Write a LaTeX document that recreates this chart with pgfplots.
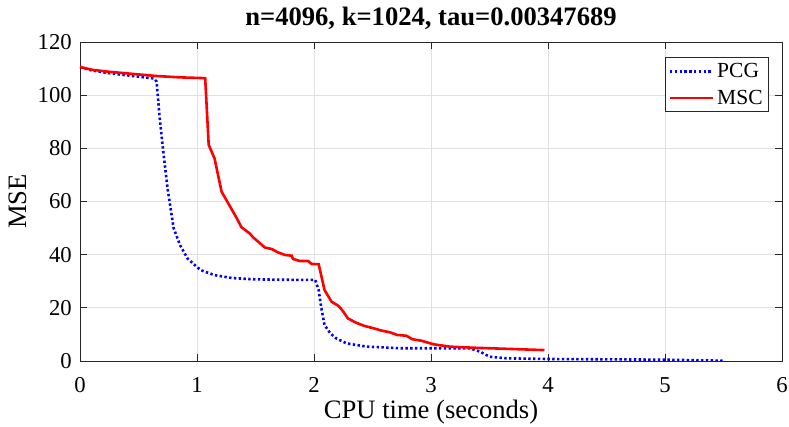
\documentclass[border=0pt]{standalone}
\usepackage{pgfplots}
\pgfplotsset{compat=1.18}
\usepackage{fontspec}
\setmainfont{Liberation Serif}
\usetikzlibrary{calc}
\definecolor{mblue}{RGB}{0,0,255}
\definecolor{mred}{RGB}{255,0,0}
\newcommand{\tickfont}{\fontsize{22.7}{26}\selectfont}
\newcommand{\labfont}{\fontsize{26.6}{30}\selectfont}

\begin{document}
\begin{tikzpicture}
\begin{axis}[
  name=ax,
  scale only axis,
  width=702pt, height=319pt,
  xmin=0, xmax=6, ymin=0, ymax=120,
  xtick={0,1,...,6}, ytick={0,20,...,120},
  /pgf/number format/assume math mode=true,
  tick label style={font=\tickfont, inner sep=0pt},
  xticklabel style={anchor=north, yshift=-16pt},
  yticklabel style={anchor=east, xshift=-8pt},
  tick align=inside,
  major tick length=7pt,
  tick style={line width=0.8pt, color=black!85},
  axis line style={line width=0.8pt, color=black!85},
  grid=major,
  grid style={line width=0.8pt, color=black!12},
  title={n=4096, k=1024, tau=0.00347689},
  title style={font=\bfseries\labfont, at={(rel axis cs:0.5,1)}, anchor=base, yshift=10pt, inner sep=0pt},
  xlabel={CPU time (seconds)},
  xlabel style={font=\labfont, at={(rel axis cs:0.5,0)}, anchor=base, yshift=-58pt, inner sep=0pt},
  ylabel={MSE},
  every axis y label/.style={at={(rel axis cs:0,0.5)}, rotate=90, anchor=south, yshift=53pt, font=\labfont, inner sep=0pt},
  legend style={at={(rel axis cs:0.9815,0.953)}, anchor=north east,
    font=\fontsize{21.5}{24}\selectfont, draw=black!85, line width=0.8pt,
    inner xsep=3pt, inner ysep=3pt, row sep=5pt,
    nodes={inner ysep=3pt, inner xsep=3pt}},
  legend cell align=left,
  legend image code/.code={\draw[#1] (0pt,0pt) -- (43pt,0pt);},
]
\addplot[color=mblue, line width=2.6pt, dash pattern=on 2.4pt off 2.4pt] coordinates {
(0,110.6) (0.1,109.3) (0.26,108.2) (0.45,107.2) (0.63,106.3) (0.655,105.1)
(0.68,91.9) (0.71,79.4) (0.75,64.4) (0.8,50) (0.855,43.6) (0.92,38.5)
(1.03,34.2) (1.15,32.3) (1.3,31.2) (1.5,30.7) (1.88,30.5) (2.01,30.5)
(2.04,26.7) (2.06,20.6) (2.09,13.5) (2.14,10.4) (2.19,8.5) (2.28,6.6)
(2.45,5.4) (2.74,4.8) (3.33,4.8) (3.42,3.5) (3.50,1.6) (3.65,1.0)
(4.0,0.75) (5.0,0.5) (5.51,0.1)
};
\addlegendentry{PCG}
\addplot[color=mred, line width=2.6pt] coordinates {
(0,110.6) (0.11,109.5) (0.25,108.8) (0.45,108.0) (0.655,107.2) (0.85,106.7)
(1.07,106.4) (1.10,81.3) (1.15,76.2) (1.21,63.7) (1.34,53.7) (1.38,50.3)
(1.45,48.0) (1.48,46.5) (1.58,42.7) (1.64,42.1) (1.69,40.9) (1.75,39.9)
(1.81,39.6) (1.82,38.4) (1.88,37.6) (1.95,37.6) (1.98,36.5) (2.04,36.4)
(2.09,26.7) (2.15,22.3) (2.21,20.7) (2.25,18.6) (2.29,16.0) (2.36,14.4)
(2.43,13.2) (2.51,12.3) (2.58,11.4) (2.65,10.8) (2.71,9.8) (2.79,9.5)
(2.84,8.2) (2.92,7.6) (3.02,6.3) (3.16,5.4) (3.36,5.0) (3.97,4.1)
};
\addlegendentry{MSC}
\end{axis}
\pgfresetboundingbox
\path[use as bounding box] ($(ax.south west)+(-80pt,-66pt)$) rectangle ($(ax.north east)+(7pt,42pt)$);
\end{tikzpicture}
\end{document}
